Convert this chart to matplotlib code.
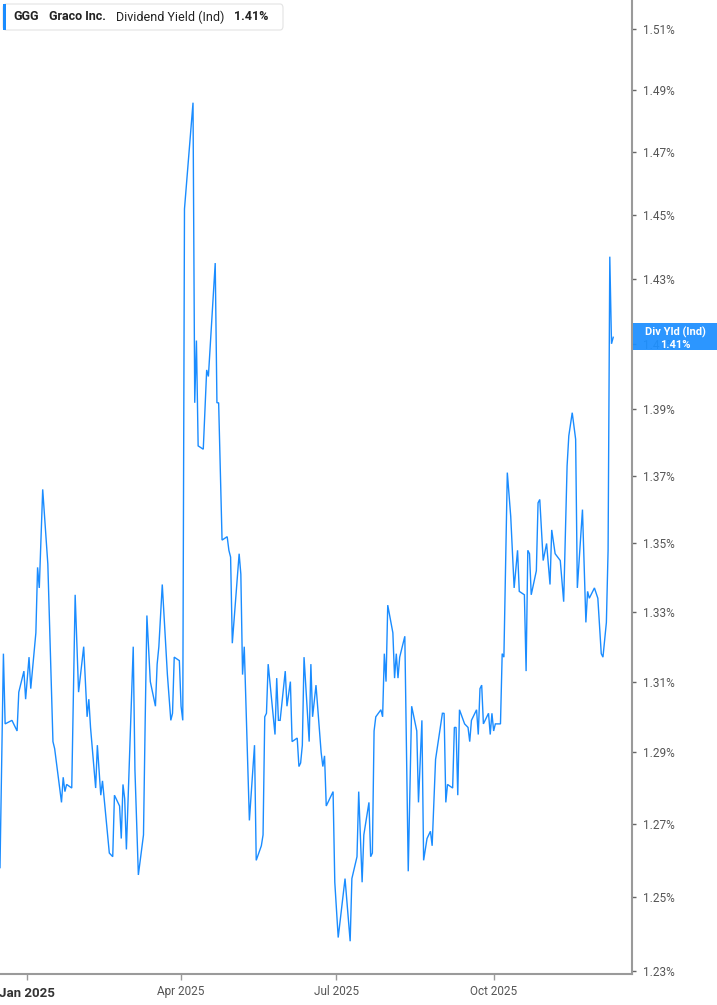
import numpy as np
import pandas as pd
import matplotlib
matplotlib.use("Agg")
import matplotlib.pyplot as plt
import matplotlib.dates as mdates
from matplotlib.ticker import FixedLocator, FixedFormatter, NullLocator
from matplotlib.patches import FancyBboxPatch, Rectangle

plt.rcParams['font.family'] = ['Roboto', 'DejaVu Sans']

# Data: GGG indicated dividend yield (%)
dates = [
    "2024-12-16", "2024-12-18", "2024-12-19", "2024-12-23", "2024-12-26", "2024-12-27", "2024-12-30", "2024-12-31", "2025-01-02", "2025-01-03",
    "2025-01-06", "2025-01-07", "2025-01-08", "2025-01-10", "2025-01-13", "2025-01-16", "2025-01-17", "2025-01-21", "2025-01-22", "2025-01-23",
    "2025-01-24", "2025-01-27", "2025-01-29", "2025-01-31", "2025-02-03", "2025-02-05", "2025-02-06", "2025-02-07", "2025-02-10", "2025-02-11",
    "2025-02-13", "2025-02-14", "2025-02-18", "2025-02-20", "2025-02-21", "2025-02-24", "2025-02-25", "2025-02-26", "2025-02-27", "2025-02-28",
    "2025-03-04", "2025-03-05", "2025-03-07", "2025-03-10", "2025-03-11", "2025-03-12", "2025-03-14", "2025-03-17", "2025-03-18", "2025-03-19",
    "2025-03-21", "2025-03-24", "2025-03-26", "2025-03-27", "2025-03-28", "2025-03-31", "2025-04-01", "2025-04-02", "2025-04-03", "2025-04-08",
    "2025-04-09", "2025-04-10", "2025-04-11", "2025-04-14", "2025-04-16", "2025-04-17", "2025-04-21", "2025-04-22", "2025-04-23", "2025-04-25",
    "2025-04-28", "2025-04-29", "2025-04-30", "2025-05-01", "2025-05-05", "2025-05-06", "2025-05-07", "2025-05-08", "2025-05-11", "2025-05-14",
    "2025-05-15", "2025-05-18", "2025-05-19", "2025-05-20", "2025-05-21", "2025-05-22", "2025-05-24", "2025-05-26", "2025-05-27", "2025-05-28",
    "2025-05-29", "2025-06-01", "2025-06-02", "2025-06-04", "2025-06-05", "2025-06-08", "2025-06-09", "2025-06-10", "2025-06-11", "2025-06-12",
    "2025-06-15", "2025-06-16", "2025-06-17", "2025-06-19", "2025-06-22", "2025-06-23", "2025-06-24", "2025-06-25", "2025-06-29", "2025-06-30",
    "2025-07-02", "2025-07-06", "2025-07-09", "2025-07-10", "2025-07-13", "2025-07-14", "2025-07-16", "2025-07-17", "2025-07-20", "2025-07-21",
    "2025-07-22", "2025-07-23", "2025-07-24", "2025-07-27", "2025-07-28", "2025-07-29", "2025-07-30", "2025-07-31", "2025-08-03", "2025-08-04",
    "2025-08-05", "2025-08-06", "2025-08-07", "2025-08-10", "2025-08-12", "2025-08-14", "2025-08-17", "2025-08-18", "2025-08-20", "2025-08-21",
    "2025-08-23", "2025-08-25", "2025-08-26", "2025-08-28", "2025-09-01", "2025-09-02", "2025-09-03", "2025-09-04", "2025-09-07", "2025-09-08",
    "2025-09-09", "2025-09-10", "2025-09-11", "2025-09-14", "2025-09-16", "2025-09-17", "2025-09-18", "2025-09-21", "2025-09-22", "2025-09-23",
    "2025-09-24", "2025-09-25", "2025-09-28", "2025-09-29", "2025-09-30", "2025-10-01", "2025-10-02", "2025-10-05", "2025-10-06", "2025-10-07",
    "2025-10-09", "2025-10-11", "2025-10-13", "2025-10-15", "2025-10-16", "2025-10-19", "2025-10-20", "2025-10-21", "2025-10-22", "2025-10-23",
    "2025-10-26", "2025-10-27", "2025-10-28", "2025-10-30", "2025-11-01", "2025-11-03", "2025-11-04", "2025-11-06", "2025-11-09", "2025-11-11",
    "2025-11-13", "2025-11-14", "2025-11-16", "2025-11-18", "2025-11-19", "2025-11-22", "2025-11-24", "2025-11-25", "2025-11-26", "2025-11-29",
    "2025-12-01", "2025-12-03", "2025-12-04", "2025-12-06", "2025-12-07", "2025-12-08", "2025-12-09", "2025-12-10",
]
yield_pct = [
    1.258, 1.318, 1.298, 1.299, 1.296, 1.307, 1.313, 1.305, 1.317, 1.308,
    1.324, 1.343, 1.337, 1.366, 1.344, 1.293, 1.291, 1.276, 1.283, 1.279,
    1.281, 1.280, 1.335, 1.307, 1.320, 1.300, 1.305, 1.297, 1.280, 1.292,
    1.278, 1.282, 1.262, 1.261, 1.278, 1.275, 1.266, 1.281, 1.277, 1.263,
    1.320, 1.285, 1.256, 1.267, 1.299, 1.329, 1.310, 1.303, 1.315, 1.320,
    1.338, 1.312, 1.299, 1.301, 1.317, 1.316, 1.303, 1.299, 1.452, 1.486,
    1.392, 1.411, 1.379, 1.378, 1.402, 1.400, 1.435, 1.392, 1.392, 1.351,
    1.352, 1.348, 1.346, 1.321, 1.347, 1.341, 1.312, 1.320, 1.271, 1.292,
    1.260, 1.264, 1.267, 1.300, 1.301, 1.315, 1.305, 1.295, 1.311, 1.299,
    1.299, 1.313, 1.303, 1.310, 1.293, 1.294, 1.286, 1.287, 1.292, 1.317,
    1.293, 1.315, 1.300, 1.309, 1.290, 1.286, 1.289, 1.275, 1.279, 1.254,
    1.239, 1.255, 1.238, 1.255, 1.261, 1.279, 1.254, 1.267, 1.276, 1.261,
    1.262, 1.296, 1.300, 1.302, 1.300, 1.318, 1.310, 1.332, 1.324, 1.311,
    1.318, 1.311, 1.317, 1.323, 1.257, 1.303, 1.296, 1.276, 1.299, 1.260,
    1.266, 1.268, 1.264, 1.288, 1.301, 1.301, 1.276, 1.281, 1.280, 1.297,
    1.297, 1.278, 1.302, 1.298, 1.297, 1.293, 1.299, 1.302, 1.295, 1.308,
    1.309, 1.298, 1.301, 1.295, 1.301, 1.296, 1.298, 1.298, 1.318, 1.317,
    1.371, 1.358, 1.337, 1.348, 1.336, 1.335, 1.313, 1.348, 1.347, 1.335,
    1.342, 1.362, 1.363, 1.345, 1.350, 1.338, 1.354, 1.347, 1.345, 1.333,
    1.373, 1.382, 1.389, 1.381, 1.337, 1.360, 1.327, 1.336, 1.334, 1.337,
    1.334, 1.318, 1.317, 1.327, 1.348, 1.437, 1.410, 1.412,
]
ytick_vals = [1.23, 1.25, 1.27, 1.29, 1.31, 1.33, 1.35, 1.37, 1.39, 1.41, 1.43, 1.45, 1.47, 1.49, 1.51]
xtick_dates = ["2025-01-01", "2025-04-01", "2025-07-01", "2025-10-01"]
xtick_labels = ["Jan 2025", "Apr 2025", "Jul 2025", "Oct 2025"]
last_value = 1.41

line_color = "#1a8cff"
axis_color = "#9a9a9a"
label_color = "#555555"

W, H = 717, 1005
fig = plt.figure(figsize=(W / 100, H / 100), dpi=100)
ax = fig.add_axes([0, 31 / H, 632 / W, 1 - 31 / H])

x = pd.to_datetime(dates)
ax.plot(x, yield_pct, color=line_color, lw=1.0, solid_joinstyle="miter")

ax.set_yscale("log")
ax.set_ylim(1.2292, 1.5196)
ax.set_xlim(pd.Timestamp("2024-12-16"), pd.Timestamp("2025-12-21"))

# y axis on the right
ax.yaxis.tick_right()
ax.yaxis.set_major_locator(FixedLocator(ytick_vals))
ax.yaxis.set_major_formatter(FixedFormatter([f"{v:.2f}%" for v in ytick_vals]))
ax.yaxis.set_minor_locator(NullLocator())
ax.tick_params(axis="y", direction="out", length=3, width=1, color="#666666",
               labelsize=8.5, labelcolor=label_color, pad=5)

# x axis
ax.xaxis.set_major_locator(FixedLocator(mdates.date2num(pd.to_datetime(xtick_dates))))
ax.xaxis.set_major_formatter(FixedFormatter(xtick_labels))
ax.xaxis.set_minor_locator(NullLocator())
ax.tick_params(axis="x", direction="out", length=4, width=1, color=axis_color,
               labelsize=8.5, labelcolor=label_color, pad=4)
for lbl in ax.get_xticklabels():
    if lbl.get_text().startswith("Jan"):
        lbl.set_fontweight("bold")
        lbl.set_fontsize(9.5)
        lbl.set_color("#333333")
        lbl.set_y(-0.002)

for s in ["top", "left"]:
    ax.spines[s].set_visible(False)
for s in ["right", "bottom"]:
    ax.spines[s].set_color(axis_color)
    ax.spines[s].set_linewidth(1.5)

# legend box at the top left
box = FancyBboxPatch((3 / W, 1 - 30 / H), 280 / W, 26 / H,
                     boxstyle="round,pad=0,rounding_size=0.004",
                     transform=fig.transFigure, facecolor="white",
                     edgecolor="#e3e3e3", lw=0.8, zorder=5)
fig.patches.append(box)
fig.patches.append(Rectangle((3 / W, 1 - 30 / H), 3 / W, 26 / H,
                             transform=fig.transFigure, facecolor=line_color,
                             edgecolor="none", zorder=6))
ty = 1 - 17 / H
fig.text(13 / W, ty, "GGG", fontsize=9, fontweight="bold", color="#222222", va="center", zorder=7)
fig.text(49 / W, ty, "Graco Inc.", fontsize=9, fontweight="bold", color="#222222", va="center", zorder=7)
fig.text(116 / W, ty, "Dividend Yield (Ind)", fontsize=9, color="#222222", va="center", zorder=7)
fig.text(234 / W, ty, f"{last_value:.2f}%", fontsize=9, fontweight="bold", color="#222222", va="center", zorder=7)

# last value tag on the right axis
fig.patches.append(Rectangle((633 / W, 1 - 350 / H), 84 / W, 27 / H,
                             transform=fig.transFigure, facecolor="#1e90ff",
                             edgecolor="none", alpha=0.94, zorder=8))
fig.text(675 / W, 1 - 332 / H, "Div Yld (Ind)", fontsize=8, fontweight="bold",
         color="white", ha="center", va="center", zorder=9)
fig.text(675 / W, 1 - 344.5 / H, f"{last_value:.2f}%", fontsize=8, fontweight="bold",
         color="white", ha="center", va="center", zorder=9)

fig.savefig("out.png", dpi=100, facecolor="white")
